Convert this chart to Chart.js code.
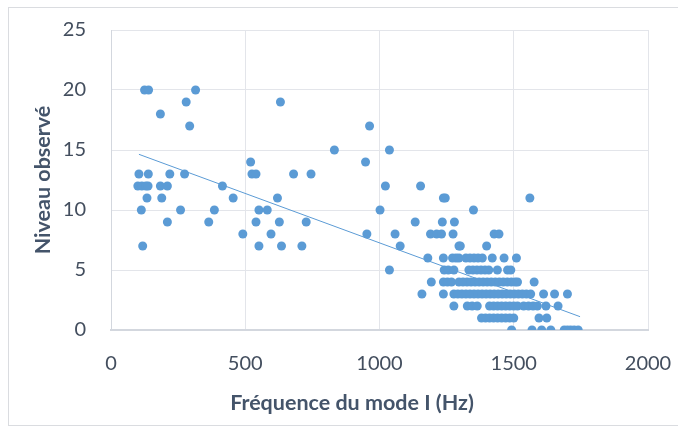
<!DOCTYPE html>
<html><head><meta charset="utf-8">
<script src="https://cdn.jsdelivr.net/npm/chart.js@4/dist/chart.umd.min.js"></script>
<style>
html,body{margin:0;padding:0;background:#fff;overflow:hidden;}
#wrap{position:relative;width:678px;height:427px;overflow:hidden;}
#frame{position:absolute;left:8px;top:7px;width:690px;height:419px;border:1px solid #DADCE0;box-sizing:border-box;}
canvas{position:absolute;left:0;top:0;}
</style></head>
<body><div id="wrap"><div id="frame"></div><canvas id="c" width="678" height="427"></canvas></div>
<script>
// Observed levels (y) and the frequencies (Hz) observed at each level
const observedLevels = [0,1,2,3,4,5,6,7,8,9,10,11,12,13,14,15,17,18,19,20];
const frequenciesByLevel = [
  [1492,1568,1604,1638,1688,1700,1712,1725,1740],
  [1380,1395,1410,1425,1440,1455,1470,1485,1500,1594,1623],
  [1277,1327,1345,1364,1410,1425,1440,1455,1470,1485,1500,1514,1537,1555,1572,1588,1620,1665],
  [1158,1238,1277,1292,1307,1322,1337,1352,1367,1382,1397,1412,1427,1442,1457,1472,1487,1502,1517,1532,1547,1563,1611,1652,1700],
  [1193,1238,1253,1268,1296,1311,1326,1341,1356,1371,1386,1401,1416,1431,1446,1461,1476,1491,1505,1514,1576],
  [1037,1241,1256,1277,1333,1348,1363,1378,1393,1407,1439,1477,1489],
  [1180,1238,1272,1285,1296,1322,1337,1352,1367,1383,1420,1464,1510],
  [118,551,635,711,1077,1296,1301,1399],
  [491,596,953,1058,1190,1213,1231,1274,1427,1445],
  [210,364,540,627,727,1133,1234,1279],
  [113,259,385,551,582,1002,1350],
  [134,189,455,620,1238,1245,1560],
  [100,115,130,138,184,210,415,1022,1153],
  [104,139,219,274,525,540,680,745],
  [520,948],
  [832,1037],
  [293,963],
  [184],
  [280,631],
  [125,140,315]
];
// Linear trend line end points (as drawn in the reference)
const trendFreq = [104, 1747];
const trendLevel = [14.64, 1.11];
const xTicks = [0,500,1000,1500,2000];
const yTicks = [0,5,10,15,20,25];
const xTitle = 'Fréquence du mode I (Hz)';
const yTitle = 'Niveau observé';

const points = [];
observedLevels.forEach((lv,i)=>frequenciesByLevel[i].forEach(f=>points.push({x:f,y:lv})));
const trend = trendFreq.map((f,i)=>({x:f,y:trendLevel[i]}));

const FONT = 'Lato, "Open Sans", sans-serif';
const xTitlePlugin = {
  id:'xTitle',
  afterDraw(chart){
    const ctx = chart.ctx;
    ctx.save();
    ctx.font = 'bold 21.5px ' + FONT;
    ctx.fillStyle = '#44546A';
    ctx.textAlign = 'center';
    ctx.textBaseline = 'middle';
    ctx.fillText(xTitle, 352, 403);
    ctx.restore();
  }
};

new Chart(document.getElementById('c'), {
  type:'scatter',
  data:{datasets:[
    {label:'Niveau', data:points, backgroundColor:'#5B9BD5', borderColor:'#5B9BD5', pointRadius:4.5, pointHoverRadius:4.5, borderWidth:0, order:1},
    {label:'Tendance', type:'line', data:trend, borderColor:'#5B9BD5', borderWidth:1, pointRadius:0, fill:false, order:0}
  ]},
  options:{
    responsive:false, animation:false,
    layout:{padding:{left:0,top:30,right:30,bottom:0}},
    plugins:{legend:{display:false}, tooltip:{enabled:false}},
    scales:{
      x:{type:'linear', min:0, max:2000,
        afterBuildTicks(s){ s.ticks = xTicks.map(v=>({value:v})); },
        afterFit(s){ s.height = 97; s.paddingLeft = 0; s.paddingRight = 0; },
        grid:{color:'#E3E5EA', lineWidth:1, drawTicks:false},
        border:{color:'#D3D7DE', width:2},
        ticks:{padding:22, color:'#434E5E', font:{family:FONT, size:20}, callback:(v)=>String(v)}
      },
      y:{type:'linear', min:0, max:25,
        afterBuildTicks(s){ s.ticks = yTicks.map(v=>({value:v})); },
        afterFit(s){ s.width = 111; s.paddingTop = 0; s.paddingBottom = 0; },
        grid:{color:'#E3E5EA', lineWidth:1, drawTicks:false},
        border:{color:'#D3D7DE', width:1},
        ticks:{padding:25, color:'#434E5E', font:{family:FONT, size:20}, callback:(v)=>String(v)},
        title:{display:true, text:yTitle, color:'#44546A', font:{family:FONT, size:21.5, weight:'bold'}, padding:{top:30,bottom:0}}
      }
    }
  },
  plugins:[xTitlePlugin]
});
</script></body></html>
